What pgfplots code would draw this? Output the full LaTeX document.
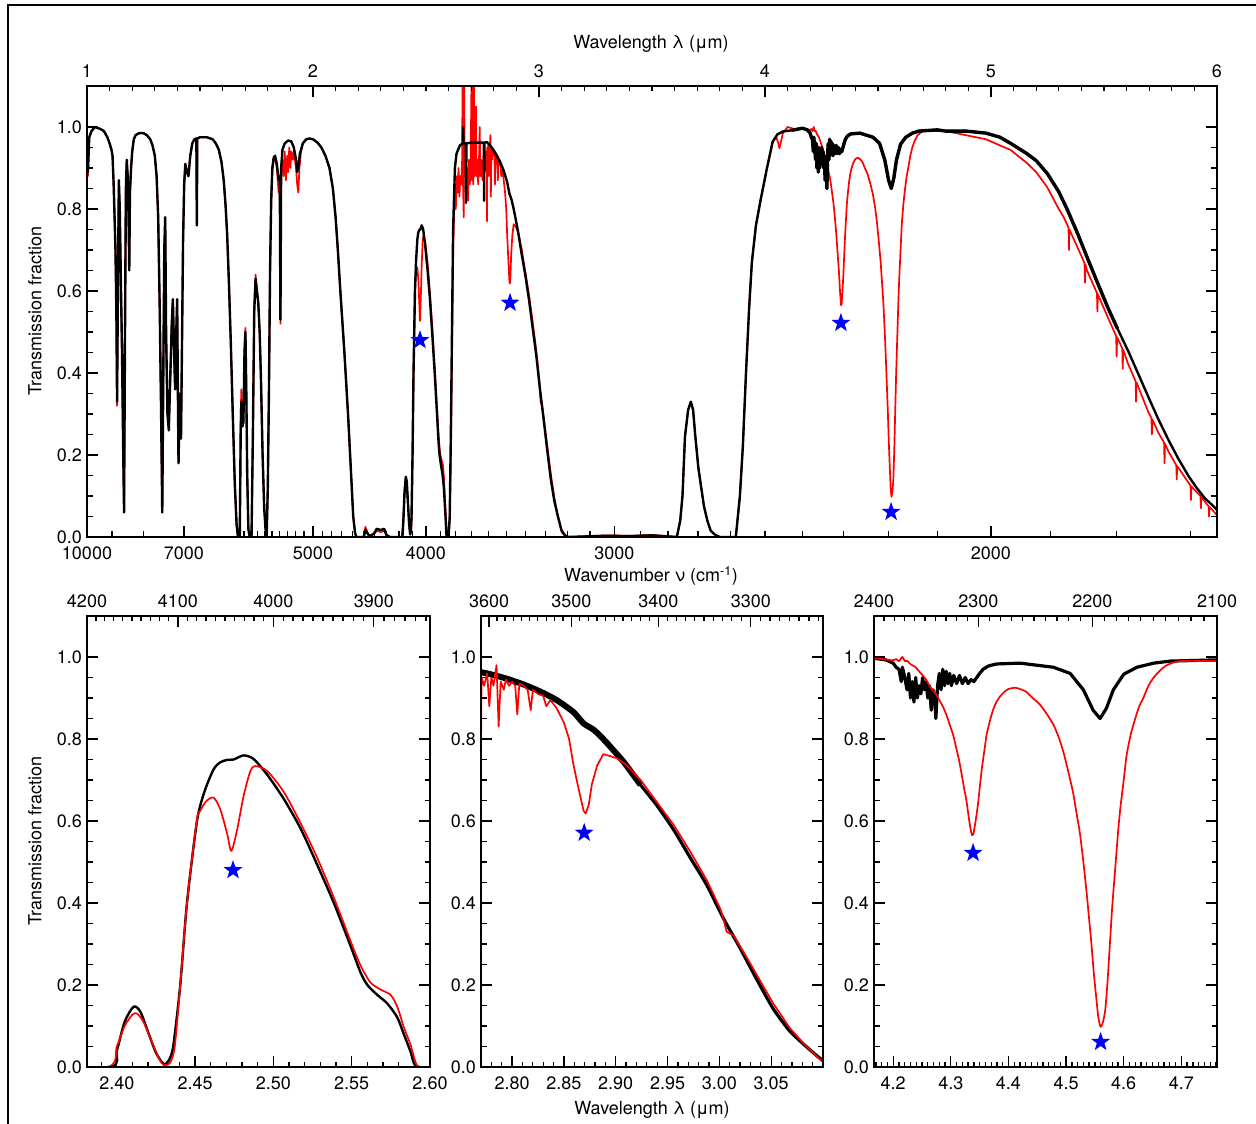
\documentclass[border=0pt]{standalone}
\usepackage{fontspec}
\setmainfont{TeX Gyre Heros}
\usepackage{pgfplots}
\usepackage{pgfplotstable}
\pgfplotsset{compat=1.18}

\pgfdeclareplotmark{fstar}{%
  \pgfpathmoveto{\pgfqpointpolar{90}{\pgfplotmarksize}}%
  \pgfpathlineto{\pgfqpointpolar{126}{0.4\pgfplotmarksize}}%
  \pgfpathlineto{\pgfqpointpolar{162}{\pgfplotmarksize}}%
  \pgfpathlineto{\pgfqpointpolar{198}{0.4\pgfplotmarksize}}%
  \pgfpathlineto{\pgfqpointpolar{234}{\pgfplotmarksize}}%
  \pgfpathlineto{\pgfqpointpolar{270}{0.4\pgfplotmarksize}}%
  \pgfpathlineto{\pgfqpointpolar{306}{\pgfplotmarksize}}%
  \pgfpathlineto{\pgfqpointpolar{342}{0.4\pgfplotmarksize}}%
  \pgfpathlineto{\pgfqpointpolar{18}{\pgfplotmarksize}}%
  \pgfpathlineto{\pgfqpointpolar{54}{0.4\pgfplotmarksize}}%
  \pgfpathclose
  \pgfusepathqfill
}

\newcommand\buildticks[4]{%
  \gdef#1{}%
  \foreach \n in {#2,#3,...,#4}{%
    \pgfmathparse{10000/\n}%
    \ifx#1\empty\xdef#1{\pgfmathresult}\else\xdef#1{#1,\pgfmathresult}\fi
  }}
\buildticks{\ticksL}{4200}{4190}{3850}
\buildticks{\ticksM}{3610}{3600}{3230}
\buildticks{\ticksR}{2400}{2390}{2100}

\newcommand\lab{\fontsize{18bp}{21bp}\selectfont}

\pgfplotsset{
  panel/.style={
    scale only axis, ymin=0, ymax=1.1,
    ytick={0,0.2,0.4,0.6,0.8,1.0}, minor y tick num=3,
    yticklabel pos=left,
    tick align=inside,
    major tick length=11bp, minor tick length=5.5bp,
    every tick/.style={black, line width=1.3bp},
    axis line style={line width=1.6bp},
    tick label style={font=\lab},
    /pgf/number format/assume math mode=true,
    yticklabel style={/pgf/number format/.cd, fixed, fixed zerofill, precision=1, /tikz/.cd, anchor=east, inner sep=0pt, xshift=-5bp},
    clip=true,
  },
  lowlab/.style={xticklabel style={anchor=north, inner sep=0pt, yshift=-10bp}},
  uplab/.style={xtick pos=right, xticklabel pos=right, ytick=\empty,
    xticklabel style={anchor=south, inner sep=0pt, yshift=8bp}},
  blk/.style={black, line width=2.4bp, line join=round},
  rd/.style={red, line width=1.7bp, line join=round},
  stars/.style={only marks, mark=fstar, mark size=10bp, color=blue, mark options={fill=blue}},
}

\pgfplotstableread{
lam T
1.000 0.93
1.004 0.89
1.010 0.975
1.020 0.99
1.035 1.00
1.060 0.995
1.075 0.99
1.090 0.975
1.100 0.96
1.108 0.945
1.113 0.93
1.118 0.86
1.122 0.78
1.126 0.70
1.130 0.55
1.133 0.33
1.137 0.62
1.141 0.87
1.145 0.80
1.150 0.62
1.155 0.45
1.160 0.22
1.164 0.06
1.168 0.48
1.172 0.85
1.176 0.92
1.180 0.88
1.184 0.78
1.187 0.65
1.190 0.84
1.195 0.90
1.200 0.94
1.207 0.97
1.215 0.98
1.230 0.985
1.250 0.985
1.265 0.98
1.280 0.97
1.290 0.955
1.300 0.93
1.308 0.88
1.315 0.78
1.322 0.55
1.328 0.30
1.333 0.06
1.338 0.42
1.342 0.70
1.346 0.78
1.350 0.50
1.356 0.30
1.362 0.26
1.368 0.38
1.375 0.52
1.380 0.58
1.385 0.46
1.390 0.36
1.395 0.50
1.399 0.58
1.402 0.36
1.405 0.18
1.409 0.30
1.412 0.35
1.416 0.24
1.420 0.45
1.425 0.72
1.430 0.86
1.435 0.91
1.442 0.89
1.449 0.88
1.457 0.93
1.466 0.96
1.475 0.97
1.484 0.972
1.486 0.76
1.488 0.972
1.500 0.975
1.530 0.975
1.556 0.97
1.570 0.96
1.583 0.945
1.595 0.915
1.605 0.87
1.613 0.81
1.620 0.74
1.628 0.62
1.636 0.48
1.645 0.30
1.654 0.13
1.662 0.03
1.668 0.0
1.676 0.0
1.680 0.25
1.683 0.33
1.688 0.27
1.692 0.28
1.697 0.45
1.701 0.50
1.705 0.35
1.709 0.15
1.714 0.02
1.720 0.0
1.728 0.0
1.734 0.25
1.740 0.55
1.746 0.63
1.752 0.60
1.758 0.57
1.764 0.50
1.770 0.38
1.777 0.20
1.784 0.07
1.790 0.02
1.795 0.0
1.800 0.12
1.805 0.35
1.810 0.65
1.815 0.82
1.820 0.90
1.826 0.925
1.832 0.93
1.840 0.91
1.848 0.87
1.853 0.88
1.856 0.53
1.859 0.90
1.865 0.945
1.875 0.96
1.890 0.967
1.904 0.965
1.915 0.95
1.925 0.92
1.930 0.89
1.935 0.90
1.942 0.935
1.955 0.96
1.970 0.97
1.985 0.972
2.000 0.97
2.020 0.962
2.037 0.95
2.055 0.93
2.073 0.90
2.088 0.85
2.100 0.78
2.110 0.70
2.121 0.60
2.139 0.45
2.155 0.30
2.168 0.16
2.178 0.05
2.186 0.01
2.192 0.0
2.225 0.0
2.232 0.018
2.240 0.01
2.250 0.002
2.270 0.008
2.282 0.02
2.300 0.017
2.315 0.02
2.325 0.005
2.340 0.0
2.3957 0.0
2.400 0.04
2.405 0.11
2.4107 0.147
2.415 0.135
2.420 0.085
2.425 0.035
2.4299 0.007
2.433 0.015
2.436 0.05
2.4405 0.20
2.4448 0.40
2.4512 0.60
2.456 0.672
2.4618 0.726
2.466 0.743
2.4704 0.749
2.4746 0.750
2.481 0.760
2.4874 0.751
2.496 0.713
2.5066 0.654
2.5173 0.582
2.528 0.493
2.5386 0.400
2.5493 0.295
2.5556 0.231
2.560 0.200
2.5663 0.176
2.5727 0.155
2.5791 0.121
2.5834 0.079
2.5876 0.037
2.5908 0.003
2.600 0.0
2.605 0.05
2.610 0.25
2.615 0.50
2.620 0.75
2.628 0.90
2.635 0.935
2.650 0.955
2.663 0.96
2.664 1.00
2.666 0.96
2.676 0.96
2.677 0.815
2.679 0.96
2.700 0.962
2.730 0.962
2.756 0.962
2.757 0.82
2.759 0.962
2.770 0.963
2.779 0.958
2.795 0.947
2.811 0.933
2.827 0.916
2.843 0.895
2.859 0.866
2.869 0.838
2.879 0.822
2.888 0.800
2.898 0.772
2.908 0.743
2.924 0.688
2.940 0.637
2.956 0.578
2.972 0.510
2.988 0.443
3.004 0.362
3.020 0.290
3.036 0.214
3.052 0.142
3.068 0.0875
3.084 0.0495
3.100 0.016
3.115 0.004
3.130 0.0
3.300 0.003
3.400 0.002
3.500 0.004
3.610 0.0
3.625 0.04
3.635 0.10
3.646 0.245
3.660 0.31
3.672 0.33
3.682 0.31
3.691 0.25
3.705 0.17
3.718 0.12
3.730 0.075
3.745 0.04
3.760 0.015
3.780 0.005
3.800 0.0
3.871 0.0
3.880 0.05
3.889 0.10
3.902 0.22
3.916 0.40
3.930 0.56
3.942 0.67
3.960 0.76
3.980 0.82
4.007 0.895
4.034 0.964
4.055 0.982
4.079 0.989
4.120 0.992
4.166 0.997
4.187 0.993
4.200 0.985
4.205 0.975
4.210 0.97
4.214 0.94
4.216 0.975
4.220 0.95
4.224 0.92
4.227 0.96
4.230 0.90
4.233 0.94
4.236 0.89
4.239 0.95
4.242 0.90
4.245 0.93
4.248 0.91
4.251 0.95
4.254 0.92
4.257 0.94
4.260 0.90
4.263 0.93
4.266 0.87
4.269 0.92
4.272 0.90
4.274 0.85
4.277 0.93
4.280 0.96
4.283 0.92
4.286 0.97
4.289 0.93
4.292 0.965
4.295 0.935
4.298 0.96
4.301 0.93
4.305 0.955
4.310 0.935
4.315 0.955
4.320 0.935
4.325 0.95
4.330 0.935
4.335 0.945
4.340 0.94
4.345 0.95
4.350 0.96
4.356 0.97
4.365 0.978
4.379 0.983
4.420 0.985
4.478 0.975
4.507 0.96
4.530 0.92
4.547 0.87
4.559 0.85
4.570 0.875
4.582 0.92
4.600 0.958
4.623 0.975
4.652 0.985
4.681 0.99
4.762 0.993
4.800 0.99
4.889 0.99
4.978 0.985
5.040 0.975
5.087 0.96
5.159 0.935
5.200 0.918
5.250 0.886
5.300 0.842
5.339 0.797
5.385 0.738
5.427 0.680
5.470 0.622
5.516 0.561
5.560 0.508
5.606 0.455
5.650 0.40
5.696 0.342
5.740 0.288
5.786 0.236
5.830 0.19
5.876 0.147
5.910 0.12
5.947 0.094
5.975 0.08
6.000 0.066
}\blackdat

\pgfplotstableread{
lam T
1.000 0.93
1.004 0.88
1.010 0.975
1.020 0.99
1.035 1.00
1.060 0.995
1.075 0.99
1.090 0.975
1.100 0.96
1.108 0.945
1.113 0.93
1.118 0.85
1.122 0.78
1.126 0.70
1.130 0.55
1.133 0.32
1.137 0.62
1.141 0.87
1.145 0.80
1.150 0.62
1.155 0.45
1.160 0.22
1.164 0.06
1.168 0.48
1.172 0.85
1.176 0.92
1.180 0.88
1.184 0.78
1.187 0.66
1.190 0.84
1.195 0.90
1.200 0.94
1.207 0.97
1.215 0.98
1.230 0.985
1.250 0.985
1.265 0.98
1.280 0.97
1.290 0.955
1.300 0.93
1.308 0.88
1.315 0.78
1.322 0.55
1.328 0.30
1.333 0.06
1.338 0.42
1.342 0.70
1.346 0.78
1.350 0.50
1.356 0.30
1.362 0.27
1.368 0.38
1.375 0.52
1.380 0.58
1.385 0.46
1.390 0.36
1.395 0.50
1.399 0.58
1.402 0.36
1.405 0.18
1.409 0.30
1.412 0.35
1.416 0.24
1.420 0.45
1.425 0.72
1.430 0.86
1.435 0.91
1.442 0.89
1.449 0.88
1.457 0.93
1.466 0.96
1.475 0.97
1.484 0.972
1.486 0.76
1.488 0.972
1.500 0.975
1.530 0.975
1.556 0.97
1.570 0.96
1.583 0.945
1.595 0.915
1.605 0.87
1.613 0.81
1.620 0.74
1.628 0.62
1.636 0.48
1.645 0.30
1.654 0.13
1.662 0.03
1.668 0.0
1.676 0.0
1.680 0.30
1.683 0.36
1.688 0.27
1.692 0.28
1.697 0.46
1.701 0.51
1.705 0.35
1.709 0.15
1.714 0.02
1.720 0.0
1.728 0.0
1.734 0.25
1.740 0.56
1.746 0.64
1.752 0.60
1.758 0.57
1.764 0.50
1.770 0.38
1.777 0.20
1.784 0.08
1.790 0.02
1.795 0.0
1.800 0.12
1.805 0.35
1.810 0.65
1.815 0.82
1.820 0.89
1.826 0.92
1.832 0.925
1.840 0.90
1.848 0.84
1.853 0.86
1.856 0.52
1.859 0.88
1.865 0.92
1.870 0.88
1.875 0.94
1.880 0.87
1.886 0.93
1.890 0.89
1.895 0.95
1.900 0.90
1.904 0.94
1.910 0.92
1.915 0.94
1.925 0.90
1.930 0.86
1.935 0.84
1.940 0.90
1.947 0.94
1.955 0.96
1.970 0.97
1.985 0.972
2.000 0.97
2.020 0.962
2.037 0.95
2.055 0.93
2.073 0.90
2.088 0.85
2.100 0.78
2.110 0.70
2.121 0.60
2.139 0.45
2.155 0.30
2.168 0.16
2.178 0.05
2.186 0.01
2.192 0.0
2.225 0.0
2.232 0.025
2.240 0.012
2.250 0.002
2.270 0.008
2.282 0.015
2.300 0.012
2.315 0.015
2.325 0.004
2.340 0.0
2.394 0.0
2.400 0.05
2.405 0.10
2.410 0.128
2.413 0.13
2.417 0.11
2.422 0.065
2.427 0.02
2.430 0.005
2.434 0.01
2.437 0.05
2.4405 0.20
2.4448 0.40
2.451 0.60
2.4533 0.625
2.457 0.648
2.4618 0.657
2.466 0.629
2.4704 0.57
2.4731 0.527
2.4768 0.578
2.481 0.662
2.4853 0.722
2.4885 0.734
2.496 0.722
2.5066 0.671
2.5173 0.595
2.528 0.510
2.5386 0.413
2.5493 0.307
2.5556 0.248
2.562 0.206
2.5684 0.189
2.5748 0.176
2.5791 0.147
2.5834 0.096
2.5876 0.054
2.5919 0.003
2.600 0.0
2.605 0.04
2.610 0.20
2.615 0.45
2.620 0.70
2.625 0.80
2.628 0.86
2.632 0.80
2.636 0.88
2.640 0.84
2.644 0.90
2.648 0.83
2.652 0.88
2.656 0.86
2.660 0.92
2.662 1.15
2.664 0.86
2.667 0.78
2.669 1.15
2.671 0.88
2.675 0.92
2.678 0.85
2.682 0.90
2.686 0.82
2.690 0.92
2.694 0.86
2.698 0.93
2.702 1.15
2.704 0.87
2.707 1.15
2.709 0.86
2.712 1.12
2.714 0.88
2.718 0.92
2.721 1.05
2.723 0.88
2.727 0.92
2.731 0.86
2.735 0.93
2.738 1.00
2.740 0.88
2.745 0.92
2.750 0.87
2.755 0.93
2.760 0.89
2.765 0.94
2.7695 0.92
2.770 0.77
2.7705 0.95
2.773 0.93
2.776 0.96
2.778 0.88
2.780 0.95
2.782 0.93
2.785 0.98
2.787 0.83
2.789 0.94
2.792 0.92
2.794 0.945
2.797 0.93
2.800 0.94
2.803 0.93
2.805 0.86
2.807 0.935
2.811 0.93
2.815 0.92
2.818 0.87
2.820 0.92
2.825 0.91
2.830 0.905
2.833 0.88
2.837 0.895
2.843 0.875
2.850 0.84
2.855 0.80
2.859 0.74
2.864 0.68
2.869 0.625
2.871 0.618
2.874 0.64
2.877 0.69
2.882 0.735
2.888 0.763
2.895 0.758
2.901 0.753
2.911 0.735
2.924 0.70
2.940 0.645
2.956 0.59
2.972 0.525
2.988 0.455
3.001 0.385
3.004 0.36
3.007 0.33
3.014 0.32
3.027 0.265
3.036 0.225
3.052 0.155
3.068 0.095
3.084 0.05
3.100 0.012
3.115 0.003
3.130 0.0
3.300 0.004
3.400 0.003
3.500 0.005
3.610 0.0
3.625 0.04
3.635 0.10
3.646 0.245
3.660 0.31
3.672 0.33
3.682 0.31
3.691 0.25
3.705 0.17
3.718 0.12
3.730 0.075
3.745 0.04
3.760 0.015
3.780 0.005
3.800 0.0
3.871 0.0
3.880 0.05
3.889 0.10
3.902 0.22
3.916 0.40
3.930 0.56
3.942 0.67
3.960 0.76
3.980 0.82
4.007 0.895
4.034 0.964
4.050 0.975
4.058 0.962
4.064 0.948
4.070 0.962
4.079 0.985
4.100 1.0
4.130 0.995
4.166 0.997
4.199 0.992
4.205 0.995
4.210 0.99
4.216 1.0
4.220 0.99
4.225 0.99
4.228 0.985
4.233 0.98
4.239 0.975
4.245 0.965
4.251 0.955
4.257 0.945
4.263 0.93
4.268 0.92
4.274 0.91
4.280 0.895
4.286 0.88
4.292 0.86
4.298 0.835
4.304 0.81
4.309 0.78
4.314 0.75
4.318 0.72
4.323 0.68
4.327 0.65
4.332 0.60
4.335 0.575
4.337 0.565
4.339 0.568
4.343 0.60
4.347 0.64
4.350 0.68
4.354 0.73
4.358 0.77
4.362 0.81
4.367 0.84
4.373 0.87
4.379 0.89
4.386 0.905
4.393 0.915
4.400 0.922
4.411 0.925
4.420 0.922
4.431 0.915
4.442 0.90
4.454 0.885
4.466 0.862
4.478 0.835
4.487 0.805
4.495 0.77
4.503 0.725
4.512 0.67
4.518 0.62
4.524 0.57
4.530 0.50
4.536 0.42
4.540 0.36
4.544 0.30
4.548 0.23
4.553 0.16
4.556 0.12
4.560 0.098
4.564 0.11
4.568 0.14
4.572 0.21
4.576 0.30
4.580 0.39
4.585 0.48
4.590 0.57
4.594 0.63
4.600 0.70
4.605 0.76
4.612 0.81
4.620 0.85
4.627 0.88
4.634 0.90
4.643 0.93
4.652 0.95
4.663 0.967
4.675 0.98
4.698 0.99
4.762 0.99
4.800 0.99
4.889 0.98
4.978 0.97
5.040 0.955
5.087 0.944
5.159 0.912
5.200 0.89
5.248 0.854
5.300 0.80
5.321 0.781
5.343 0.755
5.345 0.70
5.347 0.75
5.380 0.71
5.414 0.668
5.416 0.62
5.418 0.665
5.425 0.65
5.469 0.595
5.471 0.55
5.473 0.592
5.516 0.537
5.554 0.49
5.556 0.44
5.558 0.487
5.581 0.46
5.583 0.41
5.585 0.457
5.606 0.423
5.640 0.38
5.642 0.33
5.644 0.377
5.696 0.305
5.710 0.29
5.712 0.25
5.714 0.287
5.740 0.255
5.766 0.23
5.768 0.18
5.770 0.227
5.786 0.208
5.820 0.175
5.822 0.14
5.824 0.173
5.876 0.131
5.883 0.125
5.885 0.09
5.887 0.123
5.927 0.10
5.929 0.07
5.931 0.099
5.947 0.086
5.963 0.075
5.965 0.05
5.967 0.073
6.000 0.054
}\reddat

\begin{document}
\begin{tikzpicture}
\useasboundingbox (0,0) rectangle (1256bp,1124bp);
\draw[line width=1.5bp] (8bp,0) -- (8bp,1119bp) -- (1256bp,1119bp);

% ---------------- top panel ----------------
\begin{axis}[panel, lowlab, at={(87bp,587bp)}, anchor=south west, width=1130bp, height=451bp,
  xmin=1, xmax=6, xtick pos=left,
  xtick={1,1.428571,2,2.5,3.333333,5}, xticklabels={10000,7000,5000,4000,3000,2000},
  minor xtick={1.11111,1.25,1.66667,1.69492,1.72414,1.75439,1.78571,1.81818,1.85185,1.88679,1.92308,1.96078,2.04082,2.08333,2.12766,2.17391,2.22222,2.27273,2.32558,2.38095,2.43902,2.5641,2.63158,2.7027,2.77778,2.85714,2.94118,3.0303,3.125,3.22581,3.44828,3.57143,3.7037,3.84615,4.0,4.16667,4.34783,4.54545,4.7619,5.26316,5.55556,5.88235}]
\addplot[rd] table[x=lam,y=T] {\reddat};
\addplot[blk] table[x=lam,y=T] {\blackdat};
\addplot[blk, line width=3.4bp, restrict x to domain=4.1:5.6] table[x=lam,y=T] {\blackdat};
\addplot[stars] coordinates {(2.4735,0.48) (2.872,0.571) (4.336,0.522) (4.558,0.061)};
\end{axis}
\begin{axis}[panel, uplab, at={(87bp,587bp)}, anchor=south west, width=1130bp, height=451bp,
  xmin=1, xmax=6, xtick={1,2,3,4,5,6}, minor x tick num=9]
\end{axis}

% ---------------- bottom left ----------------
\begin{axis}[panel, lowlab, at={(87bp,57bp)}, anchor=south west, width=343bp, height=451bp,
  xmin=2.38095, xmax=2.60, xtick pos=left,
  xtick={2.40,2.45,2.50,2.55,2.60}, xticklabels={2.40,2.45,2.50,2.55,2.60},
  minor xtick={2.39,2.40,...,2.60}]
\addplot[blk, smooth, tension=0.45, restrict x to domain=2.3:2.65] table[x=lam,y=T] {\blackdat};
\addplot[rd, smooth, tension=0.45, restrict x to domain=2.3:2.6] table[x=lam,y=T] {\reddat};
\addplot[stars] coordinates {(2.4742,0.48)};
\end{axis}
\begin{axis}[panel, uplab, at={(87bp,57bp)}, anchor=south west, width=343bp, height=451bp,
  xmin=2.38095, xmax=2.60,
  xtick={2.38095,2.43902,2.5,2.5641}, xticklabels={4200,4100,4000,3900},
  minor xtick/.expanded={\ticksL}]
\end{axis}

% ---------------- bottom middle ----------------
\begin{axis}[panel, lowlab, at={(481bp,57bp)}, anchor=south west, width=342bp, height=451bp,
  xmin=2.77, xmax=3.10, xtick pos=left,
  xtick={2.80,2.85,2.90,2.95,3.00,3.05}, xticklabels={2.80,2.85,2.90,2.95,3.00,3.05},
  minor xtick={2.77,2.78,...,3.10}]
\addplot[blk, line width=6bp, smooth, tension=0.4, restrict x to domain=2.765:2.93] table[x=lam,y=T] {\blackdat};
\addplot[blk, line width=3.2bp, smooth, tension=0.4, restrict x to domain=2.765:3.2] table[x=lam,y=T] {\blackdat};
\addplot[rd, restrict x to domain=2.76:3.2] table[x=lam,y=T] {\reddat};
\addplot[stars] coordinates {(2.8696,0.571)};
\end{axis}
\begin{axis}[panel, uplab, at={(481bp,57bp)}, anchor=south west, width=342bp, height=451bp,
  xmin=2.77, xmax=3.10,
  xtick={2.77778,2.85714,2.94118,3.0303}, xticklabels={3600,3500,3400,3300},
  minor xtick/.expanded={\ticksM}]
\end{axis}

% ---------------- bottom right ----------------
\begin{axis}[panel, lowlab, at={(874bp,57bp)}, anchor=south west, width=343bp, height=451bp,
  xmin=4.16667, xmax=4.7619, xtick pos=left,
  xtick={4.2,4.3,4.4,4.5,4.6,4.7}, xticklabels={4.2,4.3,4.4,4.5,4.6,4.7},
  minor xtick={4.17,4.18,...,4.76}]
\addplot[blk, line width=3.2bp, restrict x to domain=4.1:4.9] table[x=lam,y=T] {\blackdat};
\addplot[rd, smooth, tension=0.4, restrict x to domain=4.1:4.9] table[x=lam,y=T] {\reddat};
\addplot[stars] coordinates {(4.3386,0.522) (4.5599,0.061)};
\end{axis}
\begin{axis}[panel, uplab, at={(874bp,57bp)}, anchor=south west, width=343bp, height=451bp,
  xmin=4.16667, xmax=4.7619,
  xtick={4.16667,4.34783,4.54545,4.7619}, xticklabels={2400,2300,2200,2100},
  minor xtick/.expanded={\ticksR}]
\end{axis}

% ---------------- labels ----------------
\node[font=\lab] at (651bp,1080bp) {Wavelength λ (μm)};
\node[font=\lab] at (651bp,548bp) {Wavenumber ν (cm\textsuperscript{-1})};
\node[font=\lab, rotate=90] at (35bp,813bp) {Transmission fraction};
\node[font=\lab, rotate=90] at (35bp,283bp) {Transmission fraction};
\node[font=\lab] at (652bp,14bp) {Wavelength λ (μm)};
\end{tikzpicture}
\end{document}
